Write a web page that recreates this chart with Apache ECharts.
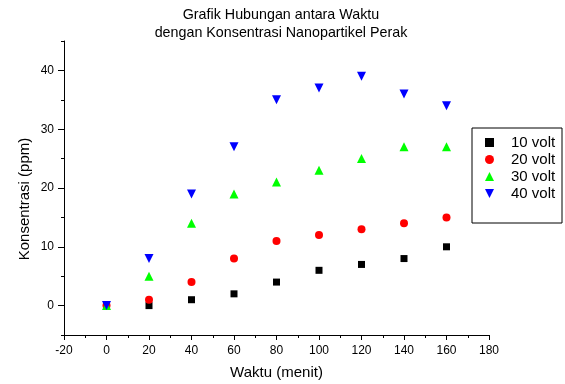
<!DOCTYPE html>
<html>
<head>
<meta charset="utf-8">
<script src="https://cdn.jsdelivr.net/npm/echarts@6/dist/echarts.min.js"></script>
<style>html,body{margin:0;padding:0;background:#fff}#c{width:565px;height:384px}</style>
</head>
<body>
<div id="c"></div>
<script>
const titleText = 'Grafik Hubungan antara Waktu\ndengan Konsentrasi Nanopartikel Perak';
const xName = 'Waktu (menit)';
const yName = 'Konsentrasi (ppm)';
const waktu = [0, 20, 40, 60, 80, 100, 120, 140, 160];
const volt10 = [0, 0, 1, 2, 4, 6, 7, 8, 10];
const volt20 = [0, 1, 4, 8, 11, 12, 13, 14, 15];
const volt30 = [0, 5, 14, 19, 21, 23, 25, 27, 27];
const volt40 = [0, 8, 19, 27, 35, 37, 39, 36, 34];
const seriesNames = ['10 volt', '20 volt', '30 volt', '40 volt'];
const yTickLabels = [0, 10, 20, 30, 40];
const yMinorTicks = [-5, 5, 15, 25, 35, 45];

const FONT = '"Liberation Sans", Arial, sans-serif';
function pairs(ys) { return waktu.map((x, i) => [x, ys[i]]); }

const chart = echarts.init(document.getElementById('c'), null, {renderer: 'canvas'});
const styles = [
  {symbol: 'rect', size: 7, color: '#000000'},
  {symbol: 'circle', size: 8, color: '#ff0000'},
  {symbol: 'triangle', size: 9, color: '#00ff00'},
  {symbol: 'path://M0,0L2,0L1,2Z', size: 9, color: '#0000ff'}
];
const allData = [volt10, volt20, volt30, volt40];

chart.setOption({
  animation: false,
  backgroundColor: '#ffffff',
  title: {
    text: titleText,
    left: 276, top: 1, textAlign: 'center',
    textStyle: {fontFamily: FONT, fontSize: 14.3, fontWeight: 'normal', color: '#000', lineHeight: 18}
  },
  grid: {left: 64, right: 76, top: 41, bottom: 49, outerBoundsMode: 'none', containLabel: false},
  legend: {
    orient: 'vertical',
    left: 472, top: 128,
    data: seriesNames,
    itemWidth: 9, itemHeight: 9, itemGap: 0,
    padding: [6, 5, 21, 13],
    borderColor: '#000', borderWidth: 1,
    textStyle: {fontFamily: FONT, fontSize: 15, color: '#000', lineHeight: 17, width: 46, padding: [0, 0, 0, 12]}
  },
  xAxis: {
    type: 'value', min: -20, max: 180, interval: 20,
    name: xName, nameLocation: 'middle', nameGap: 30, nameMoveOverlap: false,
    nameTextStyle: {fontFamily: FONT, fontSize: 15, color: '#000'},
    axisLine: {show: true, onZero: false, lineStyle: {color: '#000', width: 1}},
    axisTick: {show: true, inside: false, length: 5, lineStyle: {color: '#000'}},
    minorTick: {show: true, splitNumber: 2, length: 3, lineStyle: {color: '#000'}},
    splitLine: {show: false},
    axisLabel: {fontFamily: FONT, fontSize: 12, color: '#000', margin: 10}
  },
  yAxis: [{
    type: 'value', min: -5, max: 45,
    name: yName, nameLocation: 'middle', nameGap: 32, nameMoveOverlap: false,
    nameTextStyle: {fontFamily: FONT, fontSize: 15, color: '#000', padding: [0, 22, 0, 0]},
    axisLine: {show: true, onZero: false, lineStyle: {color: '#000', width: 1}},
    axisTick: {show: true, inside: false, length: 6, customValues: yTickLabels, lineStyle: {color: '#000', width: 1}},
    splitLine: {show: false},
    axisLabel: {fontFamily: FONT, fontSize: 12, color: '#000', margin: 10, customValues: yTickLabels}
  }, {
    type: 'value', min: -5, max: 45, position: 'left',
    axisLine: {show: false, onZero: false},
    axisTick: {show: true, inside: false, length: 3, customValues: yMinorTicks, lineStyle: {color: '#000'}},
    axisLabel: {show: false},
    splitLine: {show: false}
  }],
  series: allData.map((d, i) => ({
    name: seriesNames[i],
    type: 'scatter',
    yAxisIndex: 0,
    data: pairs(d),
    symbol: styles[i].symbol,
    symbolSize: styles[i].size,
    itemStyle: {color: styles[i].color, opacity: 1}
  }))
});
</script>
</body>
</html>
